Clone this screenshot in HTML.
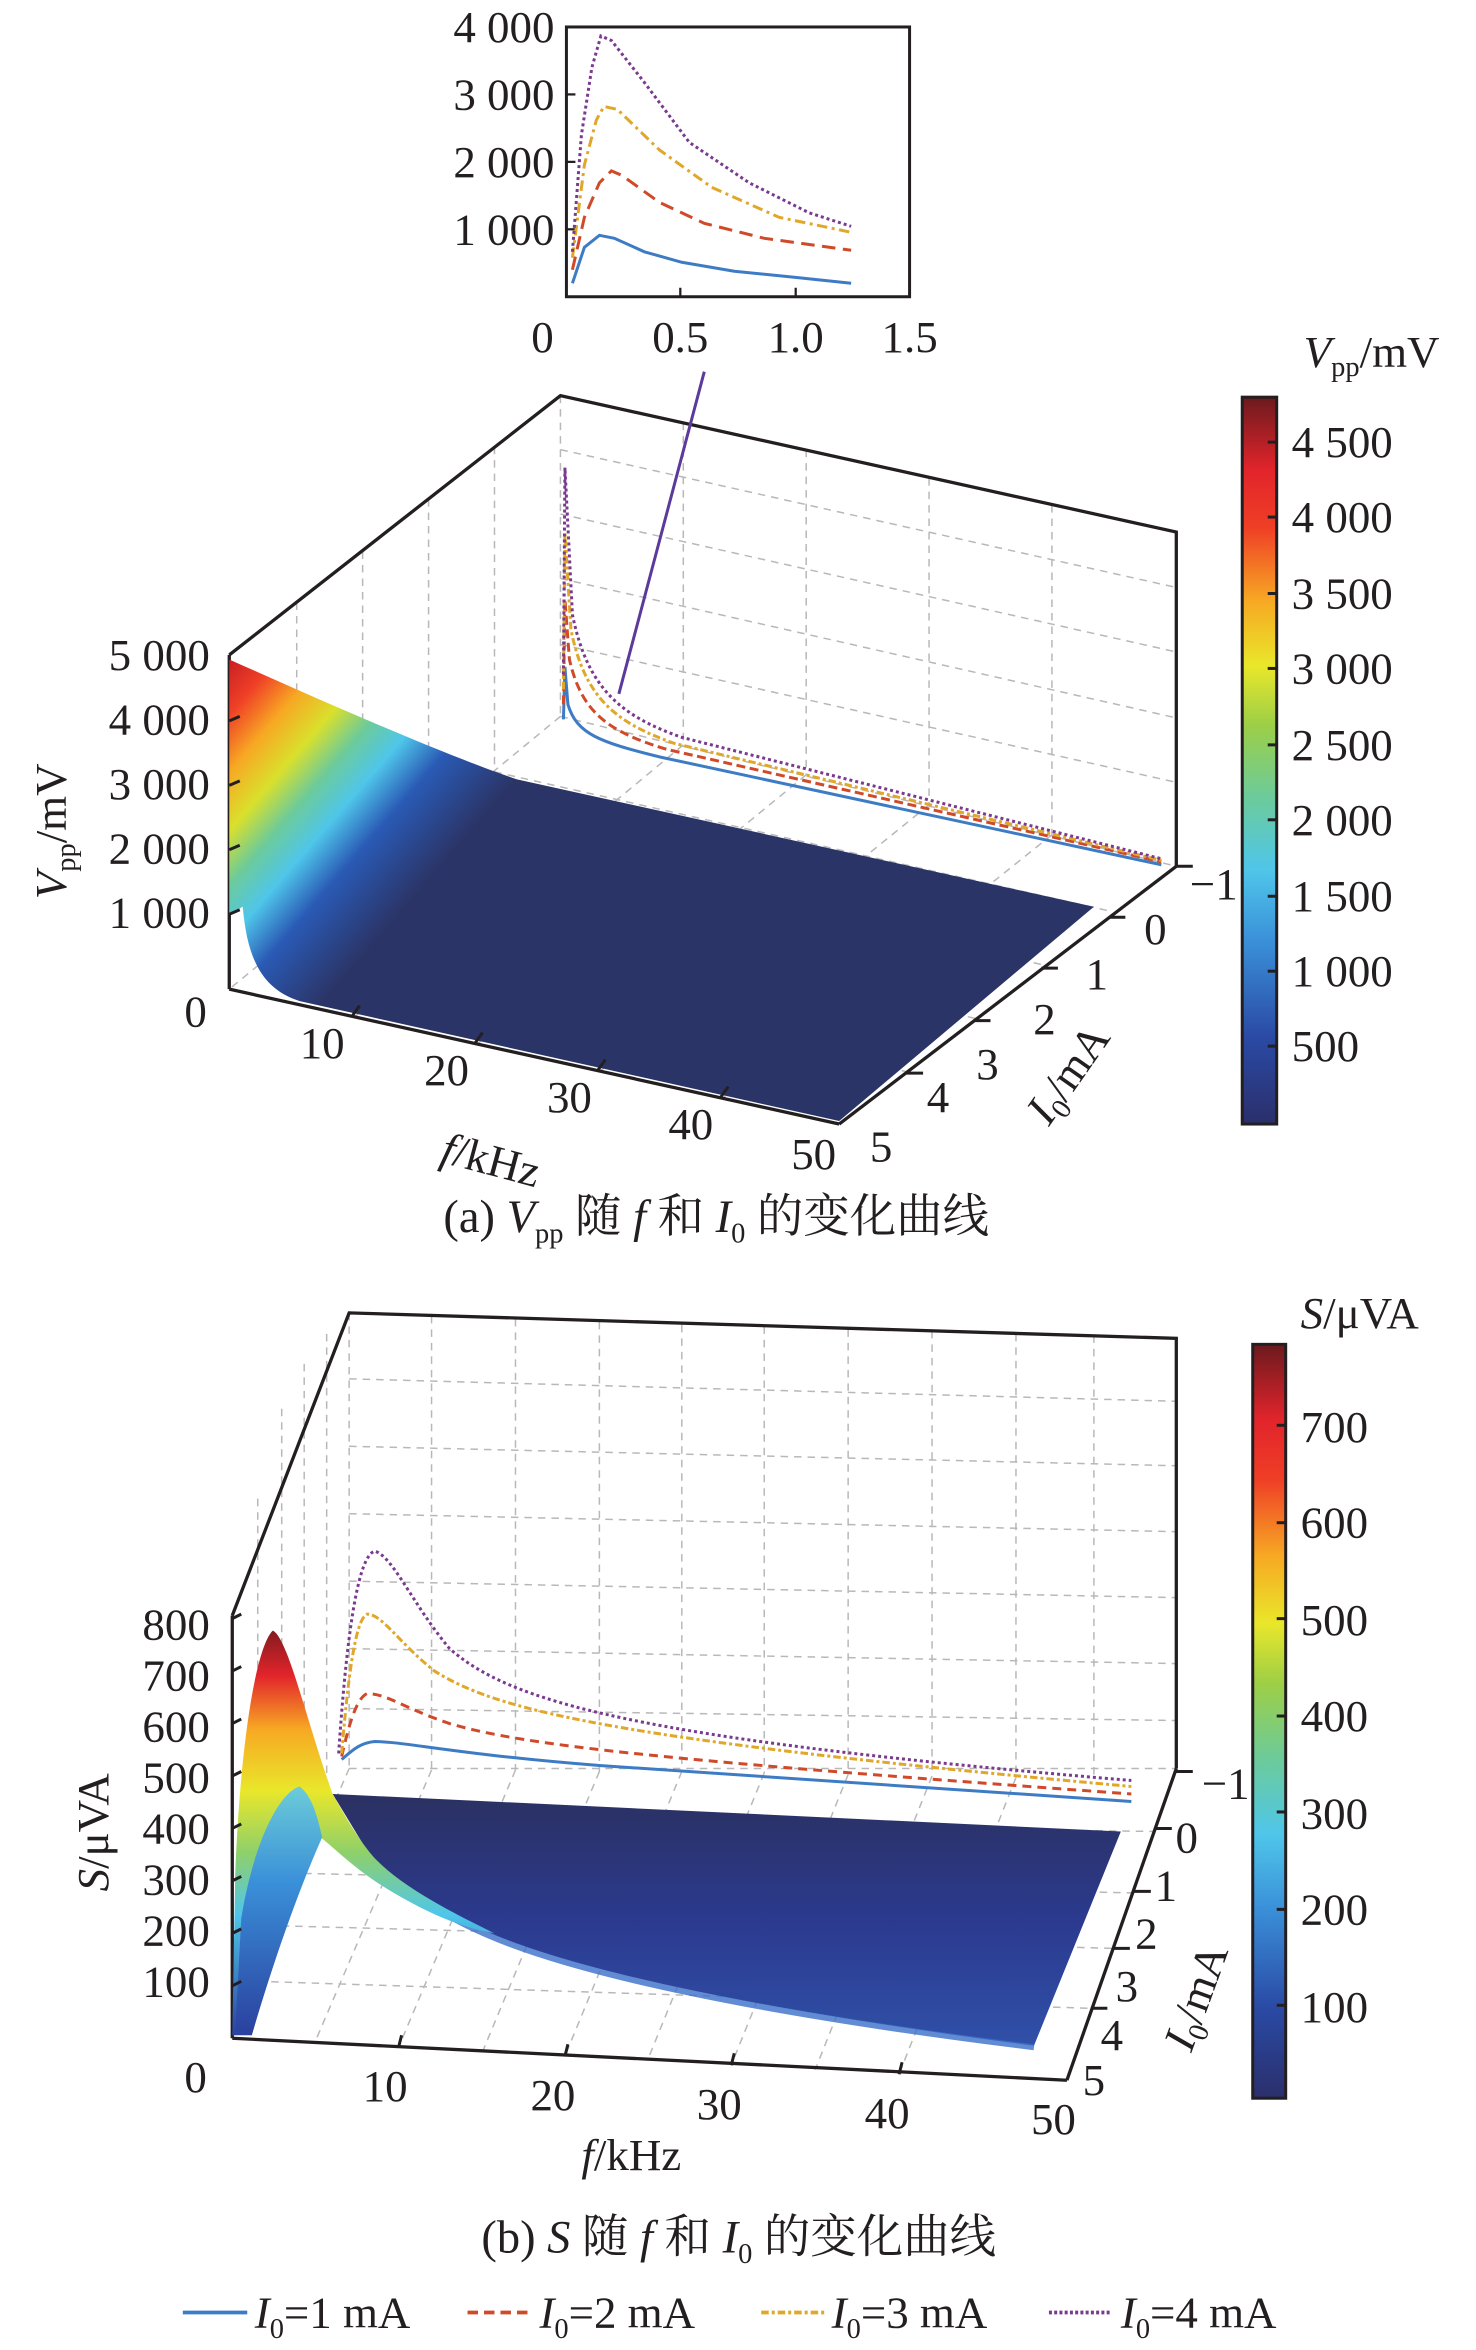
<!DOCTYPE html>
<html><head><meta charset="utf-8"><style>
html,body{margin:0;padding:0;background:#fff}
svg{display:block}
text{font-family:"Liberation Serif","Noto Serif CJK SC",serif;fill:#231f20}
</style></head><body>
<svg width="1476" height="2350" viewBox="0 0 985 1568" preserveAspectRatio="none" xmlns="http://www.w3.org/2000/svg">
<defs>
<linearGradient id="jet" x1="0" y1="1" x2="0" y2="0">
<stop offset="0" stop-color="#2b2f6b"/><stop offset="0.12" stop-color="#2a4aa5"/><stop offset="0.25" stop-color="#3a8fd8"/><stop offset="0.35" stop-color="#4fc6ea"/><stop offset="0.45" stop-color="#6ccb9a"/><stop offset="0.55" stop-color="#9dcf46"/><stop offset="0.63" stop-color="#e9e72a"/><stop offset="0.72" stop-color="#f7a823"/><stop offset="0.82" stop-color="#ef3f26"/><stop offset="0.9" stop-color="#e2242b"/><stop offset="1" stop-color="#6b1a1e"/>
</linearGradient>
<linearGradient id="sa" x1="153" y1="440" x2="302" y2="569" gradientUnits="userSpaceOnUse">
<stop offset="0" stop-color="#c81e24"/><stop offset="0.12" stop-color="#ef3f26"/><stop offset="0.25" stop-color="#f7a823"/><stop offset="0.38" stop-color="#d9e02c"/><stop offset="0.5" stop-color="#6ccb9a"/><stop offset="0.62" stop-color="#4fc6ea"/><stop offset="0.76" stop-color="#2a5ab5"/><stop offset="1" stop-color="#2b3466"/>
</linearGradient>
<linearGradient id="sb" x1="0" y1="1360" x2="0" y2="1085" gradientUnits="userSpaceOnUse">
<stop offset="0" stop-color="#2a3f9e"/><stop offset="0.3" stop-color="#4fc6ea"/><stop offset="0.45" stop-color="#8fd06a"/><stop offset="0.6" stop-color="#e9e72a"/><stop offset="0.75" stop-color="#f7a823"/><stop offset="0.88" stop-color="#e2242b"/><stop offset="1" stop-color="#7a1a1e"/>
</linearGradient>
<linearGradient id="sbi" x1="0" y1="1360" x2="0" y2="1188" gradientUnits="userSpaceOnUse">
<stop offset="0" stop-color="#2a3f9e"/><stop offset="0.6" stop-color="#3a8fd8"/><stop offset="1" stop-color="#6fd0d8"/>
</linearGradient>
<linearGradient id="sbm" x1="0" y1="1200" x2="0" y2="1365" gradientUnits="userSpaceOnUse">
<stop offset="0" stop-color="#2b3163"/><stop offset="0.5" stop-color="#2b3a8f"/><stop offset="1" stop-color="#3050a8"/>
</linearGradient>
</defs>

<!-- ============ INSET ============ -->
<rect x="378" y="18" width="229" height="180" fill="none" stroke="#231f20" stroke-width="2"/>
<g stroke="#231f20" stroke-width="1.5">
<line x1="378" y1="63" x2="384" y2="63"/><line x1="378" y1="108" x2="384" y2="108"/><line x1="378" y1="153" x2="384" y2="153"/>
<line x1="454" y1="198" x2="454" y2="192"/><line x1="531" y1="198" x2="531" y2="192"/>
</g>
<g font-size="30" text-anchor="end">
<text x="370" y="28">4 000</text><text x="370" y="73">3 000</text><text x="370" y="118">2 000</text><text x="370" y="163">1 000</text>
</g>
<g font-size="30" text-anchor="middle">
<text x="362" y="235">0</text><text x="454" y="235">0.5</text><text x="531" y="235">1.0</text><text x="607" y="235">1.5</text>
</g>
<g fill="none" stroke-width="2">
<path d="M382,189 L390,165 L400,157 L410,159 L430,168 L455,175 L490,181 L530,185 L568,189" stroke="#3d7cc4"/>
<path d="M382,180 L390,145 L400,122 L408,114 L415,117 L440,135 L470,149 L510,159 L568,167" stroke="#d04a2a" stroke-dasharray="9,5"/>
<path d="M382,172 L390,110 L398,80 L403,71 L412,73 L440,100 L475,125 L520,145 L568,155" stroke="#e0a72a" stroke-dasharray="7,3,2,3"/>
<path d="M382,168 L388,90 L395,45 L401,24 L408,27 L430,55 L460,95 L500,122 L540,142 L568,151" stroke="#7a3a8f" stroke-dasharray="2,2"/>
</g>

<!-- ============ PLOT A ============ -->
<g stroke="#b8b8b8" stroke-width="1" stroke-dasharray="5,4" fill="none">
<line x1="374" y1="264" x2="374" y2="478"/>
<line x1="374" y1="478" x2="785" y2="578"/>
<line x1="374" y1="478" x2="153" y2="660"/>
<line x1="374" y1="300" x2="785" y2="392"/><line x1="374" y1="343" x2="785" y2="435"/><line x1="374" y1="386" x2="785" y2="479"/><line x1="374" y1="430" x2="785" y2="522"/>
<line x1="456" y1="282" x2="456" y2="497"/><line x1="538" y1="300" x2="538" y2="517"/><line x1="620" y1="319" x2="620" y2="537"/><line x1="702" y1="337" x2="702" y2="557"/>
<line x1="330" y1="298" x2="330" y2="515"/><line x1="286" y1="333" x2="286" y2="551"/><line x1="242" y1="368" x2="242" y2="587"/><line x1="198" y1="402" x2="198" y2="623"/>
<line x1="456" y1="497" x2="236" y2="679"/><line x1="538" y1="517" x2="318" y2="697"/><line x1="620" y1="537" x2="400" y2="715"/><line x1="702" y1="557" x2="482" y2="733"/>
<line x1="330" y1="515" x2="741" y2="608"/><line x1="286" y1="551" x2="697" y2="644"/><line x1="242" y1="587" x2="653" y2="680"/><line x1="198" y1="623" x2="609" y2="716"/>
</g>
<g stroke="#231f20" stroke-width="2.2" fill="none">
<polyline points="153,437 374,264 785,355 785,578"/>
<line x1="153" y1="437" x2="153" y2="660"/>
<line x1="153" y1="660" x2="560" y2="750"/>
<line x1="560" y1="750" x2="785" y2="578"/>
</g>
<path d="M153,440 C220,470 300,505 345,520 L730,605 L560,748 L200,668 C175,660 165,640 162,605 L153,610 Z" fill="url(#sa)"/>
<g fill="none" stroke-width="2">
<path d="M376,480 L377,445 L379,470 C385,490 400,495 440,505 L775,577" stroke="#3d7cc4"/>
<path d="M376,470 L377,400 L380,440 C388,475 405,488 445,500 L775,575" stroke="#d04a2a" stroke-dasharray="6,3"/>
<path d="M376,460 L377,355 L381,420 C390,465 410,482 450,496 L775,574" stroke="#e0a72a" stroke-dasharray="5,2,2,2"/>
<path d="M376,450 L377,312 L382,410 C392,460 415,478 455,492 L775,573" stroke="#7a3a8f" stroke-dasharray="2,2"/>
</g>
<line x1="470" y1="248" x2="413" y2="463" stroke="#5b3a9c" stroke-width="2"/>
<g stroke="#231f20" stroke-width="2">
<line x1="153" y1="610" x2="160" y2="607"/><line x1="153" y1="567" x2="160" y2="564"/><line x1="153" y1="524" x2="160" y2="521"/><line x1="153" y1="481" x2="160" y2="478"/>
<line x1="235" y1="678" x2="240" y2="671"/><line x1="317" y1="696" x2="322" y2="689"/><line x1="399" y1="714" x2="404" y2="707"/><line x1="481" y1="732" x2="486" y2="725"/>
<line x1="785" y1="578" x2="796" y2="578"/><line x1="740" y1="612" x2="751" y2="612"/><line x1="695" y1="646" x2="706" y2="646"/><line x1="650" y1="681" x2="661" y2="681"/><line x1="605" y1="716" x2="616" y2="716"/>
</g>
<g font-size="30" text-anchor="end">
<text x="140" y="447">5 000</text><text x="140" y="490">4 000</text><text x="140" y="533">3 000</text><text x="140" y="576">2 000</text><text x="140" y="619">1 000</text><text x="138" y="685">0</text>
</g>
<g font-size="30" text-anchor="middle">
<text x="215" y="706">10</text><text x="298" y="724">20</text><text x="380" y="742">30</text><text x="461" y="760">40</text><text x="543" y="780">50</text>
<text x="810" y="600">−1</text><text x="771" y="630">0</text><text x="732" y="660">1</text><text x="697" y="690">2</text><text x="659" y="720">3</text><text x="626" y="742">4</text><text x="588" y="775">5</text>
</g>
<text x="0" y="0" font-size="30" transform="translate(44,600) rotate(-90)"><tspan font-style="italic">V</tspan><tspan font-size="19" dy="6">pp</tspan><tspan dy="-6">/mV</tspan></text>
<text x="0" y="0" font-size="30" transform="translate(293,775) rotate(15)"><tspan font-style="italic">f</tspan>/kHz</text>
<text x="0" y="0" font-size="30" transform="translate(700,752) rotate(-55)"><tspan font-style="italic">I</tspan><tspan font-size="19" dy="6">0</tspan><tspan dy="-6">/mA</tspan></text>
<rect x="829" y="265" width="23" height="485" fill="url(#jet)" stroke="#231f20" stroke-width="2"/>
<g stroke="#231f20" stroke-width="2">
<line x1="852" y1="295" x2="846" y2="295"/><line x1="852" y1="345" x2="846" y2="345"/><line x1="852" y1="396" x2="846" y2="396"/><line x1="852" y1="446" x2="846" y2="446"/><line x1="852" y1="497" x2="846" y2="497"/><line x1="852" y1="547" x2="846" y2="547"/><line x1="852" y1="598" x2="846" y2="598"/><line x1="852" y1="648" x2="846" y2="648"/><line x1="852" y1="698" x2="846" y2="698"/>
</g>
<g font-size="30">
<text x="862" y="305">4 500</text><text x="862" y="355">4 000</text><text x="862" y="406">3 500</text><text x="862" y="456">3 000</text><text x="862" y="507">2 500</text><text x="862" y="557">2 000</text><text x="862" y="608">1 500</text><text x="862" y="658">1 000</text><text x="862" y="708">500</text>
</g>
<text x="870" y="245" font-size="30"><tspan font-style="italic">V</tspan><tspan font-size="19" dy="6">pp</tspan><tspan dy="-6">/mV</tspan></text>
<text x="478" y="822" font-size="31" text-anchor="middle">(a) <tspan font-style="italic">V</tspan><tspan font-size="19" dy="7">pp</tspan><tspan dy="-7"> 随 </tspan><tspan font-style="italic">f</tspan> 和 <tspan font-style="italic">I</tspan><tspan font-size="19" dy="7">0</tspan><tspan dy="-7"> 的变化曲线</tspan></text>

<!-- ============ PLOT B ============ -->
<g stroke="#b8b8b8" stroke-width="1" stroke-dasharray="5,4" fill="none">
<line x1="233" y1="876" x2="233" y2="1180"/>
<line x1="233" y1="1180" x2="785" y2="1180"/>
<line x1="233" y1="1180" x2="155" y2="1360"/>
<line x1="233" y1="920" x2="785" y2="935"/><line x1="233" y1="965" x2="785" y2="978"/><line x1="233" y1="1010" x2="785" y2="1022"/><line x1="233" y1="1055" x2="785" y2="1066"/><line x1="233" y1="1100" x2="785" y2="1110"/><line x1="233" y1="1140" x2="785" y2="1148"/>
<line x1="288" y1="878" x2="288" y2="1181"/><line x1="344" y1="880" x2="344" y2="1181"/><line x1="400" y1="882" x2="400" y2="1182"/><line x1="455" y1="884" x2="455" y2="1182"/><line x1="510" y1="885" x2="510" y2="1183"/><line x1="566" y1="887" x2="566" y2="1184"/><line x1="622" y1="888" x2="622" y2="1185"/><line x1="678" y1="890" x2="678" y2="1186"/><line x1="730" y1="891" x2="730" y2="1186"/>
<line x1="288" y1="1181" x2="210" y2="1363"/><line x1="344" y1="1181" x2="266" y2="1366"/><line x1="400" y1="1182" x2="322" y2="1369"/><line x1="455" y1="1182" x2="377" y2="1372"/><line x1="510" y1="1183" x2="432" y2="1375"/><line x1="566" y1="1184" x2="488" y2="1378"/><line x1="622" y1="1185" x2="544" y2="1381"/><line x1="678" y1="1186" x2="600" y2="1384"/>
<line x1="218" y1="1215" x2="770" y2="1222"/><line x1="203" y1="1250" x2="755" y2="1263"/><line x1="188" y1="1285" x2="742" y2="1300"/><line x1="172" y1="1322" x2="727" y2="1340"/>
<line x1="218" y1="890" x2="218" y2="1215"/><line x1="203" y1="910" x2="203" y2="1250"/><line x1="188" y1="940" x2="188" y2="1285"/><line x1="172" y1="1000" x2="172" y2="1322"/>
</g>
<g stroke="#231f20" stroke-width="2.2" fill="none">
<polyline points="155,1078 233,876 785,893 785,1180"/>
<line x1="155" y1="1078" x2="155" y2="1360"/>
<line x1="155" y1="1360" x2="712" y2="1388"/>
<line x1="712" y1="1388" x2="785" y2="1180"/>
</g>
<!-- main surface -->
<path d="M222,1197 L748,1222 L690,1365 C560,1348 420,1325 340,1295 C300,1280 265,1258 245,1235 Z" fill="url(#sbm)"/>
<path d="M245,1237 C265,1260 300,1282 340,1297 C420,1327 560,1350 690,1366" fill="none" stroke="#3a6fc8" stroke-width="4" opacity="0.8"/>
<!-- bump outer -->
<path d="M155,1358 L157,1250 C160,1170 170,1100 182,1088 C192,1092 205,1150 222,1197 C232,1215 240,1228 250,1240 C265,1255 285,1267 310,1280 L330,1290 C300,1285 270,1268 250,1255 C235,1245 224,1234 214,1226 C202,1255 185,1300 168,1358 Z" fill="url(#sb)"/>
<!-- inner hump -->
<path d="M157,1356 L161,1280 C170,1225 188,1195 200,1192 C208,1198 212,1212 215,1226 C202,1255 185,1300 168,1358 Z" fill="url(#sbi)"/>
<g fill="none" stroke-width="2">
<path d="M228,1174 C235,1168 240,1163 250,1162 C270,1162 300,1170 400,1178 L755,1202" stroke="#3d7cc4"/>
<path d="M228,1172 C233,1150 238,1133 245,1130 C258,1130 270,1140 300,1150 C350,1165 450,1175 755,1197" stroke="#d04a2a" stroke-dasharray="6,4"/>
<path d="M228,1170 C233,1110 238,1080 245,1077 C255,1077 265,1095 290,1115 C330,1140 400,1160 755,1192" stroke="#e0a72a" stroke-dasharray="5,2,2,2"/>
<path d="M226,1170 C232,1080 240,1038 250,1035 C262,1038 275,1070 300,1100 C340,1135 420,1160 755,1188" stroke="#7a3a8f" stroke-dasharray="2,2"/>
</g>
<g stroke="#231f20" stroke-width="2">
<line x1="155" y1="1325" x2="161" y2="1322"/><line x1="155" y1="1290" x2="161" y2="1287"/><line x1="155" y1="1255" x2="161" y2="1252"/><line x1="155" y1="1220" x2="161" y2="1217"/><line x1="155" y1="1185" x2="161" y2="1182"/><line x1="155" y1="1150" x2="161" y2="1147"/><line x1="155" y1="1115" x2="161" y2="1112"/><line x1="155" y1="1080" x2="161" y2="1077"/>
<line x1="266" y1="1366" x2="268" y2="1358"/><line x1="377" y1="1372" x2="379" y2="1364"/><line x1="488" y1="1378" x2="490" y2="1370"/><line x1="600" y1="1384" x2="602" y2="1376"/>
<line x1="785" y1="1182" x2="796" y2="1182"/><line x1="771" y1="1220" x2="782" y2="1220"/><line x1="757" y1="1262" x2="768" y2="1262"/><line x1="743" y1="1300" x2="754" y2="1300"/><line x1="728" y1="1340" x2="739" y2="1340"/>
</g>
<g font-size="30" text-anchor="end">
<text x="140" y="1094">800</text><text x="140" y="1128">700</text><text x="140" y="1162">600</text><text x="140" y="1196">500</text><text x="140" y="1230">400</text><text x="140" y="1264">300</text><text x="140" y="1298">200</text><text x="140" y="1332">100</text><text x="138" y="1396">0</text>
</g>
<g font-size="30" text-anchor="middle">
<text x="257" y="1402">10</text><text x="369" y="1408">20</text><text x="480" y="1414">30</text><text x="592" y="1420">40</text><text x="703" y="1424">50</text>
<text x="818" y="1200">−1</text><text x="792" y="1236">0</text><text x="778" y="1268">1</text><text x="765" y="1300">2</text><text x="752" y="1335">3</text><text x="742" y="1368">4</text><text x="730" y="1398">5</text>
</g>
<text x="0" y="0" font-size="30" transform="translate(72,1262) rotate(-90)"><tspan font-style="italic">S</tspan>/μVA</text>
<text x="388" y="1448" font-size="30"><tspan font-style="italic">f</tspan>/kHz</text>
<text x="0" y="0" font-size="30" transform="translate(795,1370) rotate(-70)"><tspan font-style="italic">I</tspan><tspan font-size="19" dy="6">0</tspan><tspan dy="-6">/mA</tspan></text>
<rect x="836" y="897" width="22" height="503" fill="url(#jet)" stroke="#231f20" stroke-width="2"/>
<g stroke="#231f20" stroke-width="2">
<line x1="858" y1="951" x2="852" y2="951"/><line x1="858" y1="1016" x2="852" y2="1016"/><line x1="858" y1="1080" x2="852" y2="1080"/><line x1="858" y1="1145" x2="852" y2="1145"/><line x1="858" y1="1209" x2="852" y2="1209"/><line x1="858" y1="1274" x2="852" y2="1274"/><line x1="858" y1="1338" x2="852" y2="1338"/>
</g>
<g font-size="30">
<text x="868" y="962">700</text><text x="868" y="1026">600</text><text x="868" y="1091">500</text><text x="868" y="1155">400</text><text x="868" y="1220">300</text><text x="868" y="1284">200</text><text x="868" y="1349">100</text>
</g>
<text x="868" y="886" font-size="30"><tspan font-style="italic">S</tspan>/μVA</text>
<text x="493" y="1503" font-size="31" text-anchor="middle">(b) <tspan font-style="italic">S</tspan> 随 <tspan font-style="italic">f</tspan> 和 <tspan font-style="italic">I</tspan><tspan font-size="19" dy="7">0</tspan><tspan dy="-7"> 的变化曲线</tspan></text>

<g stroke-width="2.5">
<line x1="122" y1="1543" x2="165" y2="1543" stroke="#3d7cc4"/>
<line x1="312" y1="1543" x2="355" y2="1543" stroke="#d04a2a" stroke-dasharray="7,4"/>
<line x1="508" y1="1543" x2="550" y2="1543" stroke="#e0a72a" stroke-dasharray="5,2,2,2"/>
<line x1="700" y1="1543" x2="742" y2="1543" stroke="#7a3a8f" stroke-dasharray="2,1.5"/>
</g>
<g font-size="30">
<text x="170" y="1553"><tspan font-style="italic">I</tspan><tspan font-size="19" dy="7">0</tspan><tspan dy="-7">=1 mA</tspan></text>
<text x="360" y="1553"><tspan font-style="italic">I</tspan><tspan font-size="19" dy="7">0</tspan><tspan dy="-7">=2 mA</tspan></text>
<text x="555" y="1553"><tspan font-style="italic">I</tspan><tspan font-size="19" dy="7">0</tspan><tspan dy="-7">=3 mA</tspan></text>
<text x="748" y="1553"><tspan font-style="italic">I</tspan><tspan font-size="19" dy="7">0</tspan><tspan dy="-7">=4 mA</tspan></text>
</g>
</svg>
</body></html>
